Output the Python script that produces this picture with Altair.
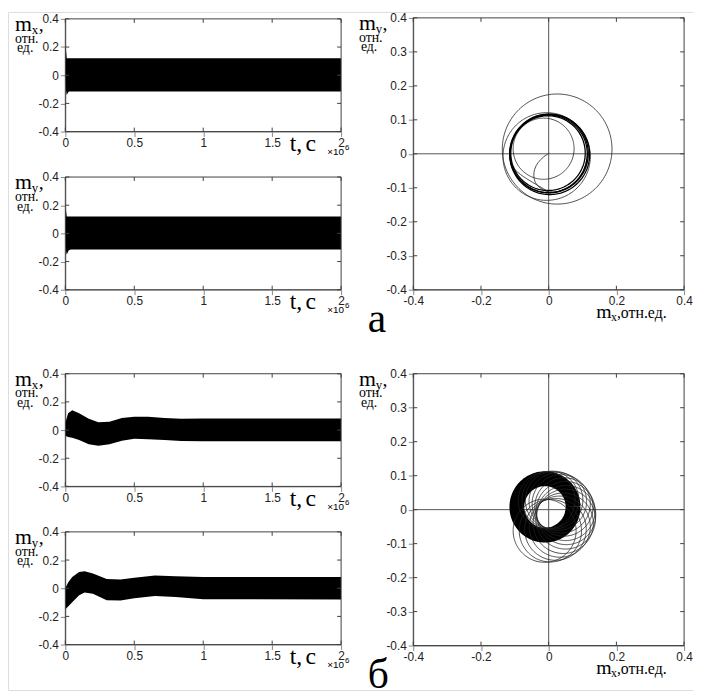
import altair as alt
import pandas as pd
import numpy as np

# ---------------- data ----------------
# envelopes of the fast oscillation, t in units of 1e-6 s
a_mx_t  = [0.0, 0.004, 0.010, 0.016, 0.025, 0.04, 2.0]
a_mx_hi = [0.20, 0.19, 0.12, 0.12, 0.12, 0.12, 0.12]
a_mx_lo = [-0.02, -0.10, -0.14, -0.13, -0.115, -0.115, -0.115]

a_my_t  = [0.0, 0.004, 0.010, 0.016, 0.025, 0.04, 2.0]
a_my_hi = [0.18, 0.17, 0.12, 0.12, 0.12, 0.12, 0.12]
a_my_lo = [0.00, -0.12, -0.15, -0.14, -0.12, -0.115, -0.115]

b_mx_t  = [0.0, 0.02, 0.05, 0.10, 0.17, 0.24, 0.32, 0.41, 0.50, 0.60, 0.72, 0.84, 1.0, 2.0]
b_mx_hi = [0.05, 0.12, 0.14, 0.12, 0.08, 0.055, 0.06, 0.085, 0.095, 0.095, 0.085, 0.08, 0.082, 0.082]
b_mx_lo = [-0.04, -0.05, -0.055, -0.07, -0.10, -0.112, -0.10, -0.075, -0.062, -0.065, -0.07, -0.078, -0.08, -0.08]

b_my_t  = [0.0, 0.02, 0.05, 0.10, 0.14, 0.20, 0.30, 0.40, 0.50, 0.65, 0.80, 1.0, 2.0]
b_my_hi = [0.0, 0.04, 0.08, 0.115, 0.12, 0.105, 0.065, 0.062, 0.075, 0.09, 0.085, 0.08, 0.08]
b_my_lo = [-0.15, -0.13, -0.10, -0.05, -0.03, -0.04, -0.085, -0.088, -0.072, -0.056, -0.062, -0.078, -0.08]

# phase portrait (a): loops as centre / radius
a_ring_cx = [0.000, 0.003, -0.002, 0.001]
a_ring_cy = [0.000, -0.002, 0.002, 0.001]
a_ring_r  = [0.114, 0.118, 0.110, 0.116]
a_loop_cx = [0.025, -0.006, -0.015]
a_loop_cy = [0.014, -0.008, 0.015]
a_loop_r  = [0.162, 0.129, 0.090]
a_path_x = [0.002, -0.015, -0.032, -0.043, -0.045, -0.038, -0.02, 0.01, 0.05, 0.085, 0.108, 0.115]
a_path_y = [0.002, -0.008, -0.025, -0.045, -0.07, -0.09, -0.106, -0.116, -0.106, -0.08, -0.045, 0.0]
a_chord_x = [-0.113, -0.095, -0.055, -0.02, 0.0]
a_chord_y = [-0.03, -0.054, -0.08, -0.10, -0.112]

# phase portrait (б): dense ring + transient loops
b_ring_cx, b_ring_cy, b_ring_r = [-0.011], [0.008], [0.083]
b_loop_cx = [-0.012, 0.005, 0.020, 0.033, 0.043, 0.050, 0.052, 0.050, 0.045, 0.037, 0.027, 0.016, 0.005, -0.006]
b_loop_cy = [-0.062, -0.062, -0.058, -0.050, -0.040, -0.028, -0.016, -0.004, 0.008, 0.017, 0.024, 0.028, 0.029, 0.027]
b_loop_r  = [0.093, 0.092, 0.091, 0.090, 0.089, 0.088, 0.087, 0.087, 0.086, 0.086, 0.085, 0.085, 0.084, 0.084]

ts_xticks = [0, 0.5, 1, 1.5, 2]
ts_yticks = [-0.4, -0.2, 0, 0.2, 0.4]
ph_xticks = [-0.4, -0.2, 0, 0.2, 0.4]
ph_yticks = [-0.4, -0.3, -0.2, -0.1, 0, 0.1, 0.2, 0.3, 0.4]

# ---------------- layout / styling ----------------
W, H = 693, 686
SERIF = "Liberation Serif"
SANS = "Liberation Sans"
FRAME = "#404040"
LINE = "#222"
TICK = 4
LABEL_EXPR = "datum.value == 0 ? '0' : (datum.value < 0 ? '-' : '') + format(abs(datum.value), '')"
one = pd.DataFrame({"k": [0]})

# panel boxes: (left, top, right, bottom) in chart pixels
BOX = {
    "p1": (58, 7, 337, 121),
    "p2": (58, 167, 337, 281),
    "p3": (58, 366, 337, 480),
    "p4": (58, 526, 337, 640),
    "pa": (410, 6, 684, 281),
    "pb": (410, 366, 684, 641),
}


def txt(s, x, y, size, font=SERIF, align="left"):
    return alt.Chart(one).mark_text(
        text=s, font=font, fontSize=size, align=align, baseline="alphabetic", color="#000"
    ).encode(x=alt.value(x), y=alt.value(y))


def xenc(field, box, dom, ticks=None):
    l, t, r, b = box
    axis = None
    if ticks is not None:
        axis = alt.Axis(values=ticks, labelExpr=LABEL_EXPR, title=None, orient="bottom",
                        offset=b - H, labelPadding=1, labelFlush=False, labelOverlap=False,
                        labelFont=SANS, labelFontSize=12, labelColor="#222")
    return alt.X(f"{field}:Q", scale=alt.Scale(domain=dom, range=[l, r], nice=False, zero=False),
                 axis=axis)


def yenc(field, box, dom, ticks=None):
    l, t, r, b = box
    axis = None
    if ticks is not None:
        axis = alt.Axis(values=ticks, labelExpr=LABEL_EXPR, title=None, orient="left",
                        offset=-l, labelPadding=2, labelFlush=False, labelOverlap=False,
                        labelFont=SANS, labelFontSize=12, labelColor="#222")
    return alt.Y(f"{field}:Q", scale=alt.Scale(domain=dom, range=[b, t], nice=False, zero=False),
                 axis=axis)


def frame_and_ticks(box, xdom, xt, ydom, yt):
    l, t, r, b = box
    frame = alt.Chart(one).mark_rect(fillOpacity=0, stroke=FRAME, strokeWidth=1).encode(
        x=alt.value(l), x2=alt.value(r), y=alt.value(t), y2=alt.value(b))
    dx = pd.DataFrame({"v": xt})
    dy = pd.DataFrame({"v": yt})
    rx = alt.Chart(dx).mark_rule(color=FRAME, strokeWidth=1)
    ry = alt.Chart(dy).mark_rule(color=FRAME, strokeWidth=1)
    return [
        frame,
        # these two layers carry the visible tick labels
        rx.encode(x=xenc("v", box, xdom, xt), y=alt.value(b), y2=alt.value(b - TICK)),
        ry.encode(y=yenc("v", box, ydom, yt), x=alt.value(l), x2=alt.value(l + TICK)),
        rx.encode(x=xenc("v", box, xdom), y=alt.value(t), y2=alt.value(t + TICK)),
        ry.encode(y=yenc("v", box, ydom), x=alt.value(r), x2=alt.value(r - TICK)),
    ]


def ylabel(sub, x0, y0):
    return [
        txt("m", x0, y0, 22),
        txt(sub, x0 + 17, y0 + 3, 13),
        txt(",", x0 + 24, y0, 20),
        txt("отн.", x0, y0 + 12, 14),
        txt("ед.", x0 + 2, y0 + 22, 14),
    ]


def ts_panel(key, t, hi, lo, sub):
    box = BOX[key]
    l, tp, r, b = box
    df = pd.DataFrame({"t": t, "hi": hi, "lo": lo})
    xdom, ydom = [0, 2], [-0.4, 0.4]
    band = alt.Chart(df).mark_area(color="#000", opacity=1, interpolate="linear").encode(
        x=xenc("t", box, xdom),
        y=yenc("hi", box, ydom),
        y2="lo:Q",
    )
    layers = [band] + frame_and_ticks(box, xdom, ts_xticks, ydom, ts_yticks)
    layers += ylabel(sub, l - 51, tp + 12)
    layers += [
        txt("t,", l + 227, b + 20, 24),
        txt("c", l + 243, b + 20, 24),
        txt("×10", l + 282, b + 24, 10, font=SANS, align="right"),
        txt("6", l + 283, b + 19, 8, font=SANS),
    ]
    return layers


def circles(cx, cy, r, tag, n=181):
    rows = []
    ang = np.linspace(0, 2 * np.pi, n)
    for k, (a, b, c) in enumerate(zip(cx, cy, r)):
        for i, th in enumerate(ang):
            rows.append({"id": f"{tag}{k}", "i": i, "x": a + c * np.cos(th), "y": b + c * np.sin(th)})
    return pd.DataFrame(rows)


def path(xs, ys, tag):
    return pd.DataFrame({"id": tag, "i": list(range(len(xs))), "x": xs, "y": ys})


def phase_panel(key, line_sets, letter):
    box = BOX[key]
    l, tp, r, b = box
    dom = [-0.4, 0.4]
    z = pd.DataFrame({"v": [0]})
    layers = [
        alt.Chart(z).mark_rule(color="#555", strokeWidth=1).encode(
            x=xenc("v", box, dom), y=alt.value(tp), y2=alt.value(b)),
        alt.Chart(z).mark_rule(color="#555", strokeWidth=1).encode(
            y=yenc("v", box, dom), x=alt.value(l), x2=alt.value(r)),
    ]
    for df, width, color, interp in line_sets:
        layers.append(
            alt.Chart(df).mark_line(color=color, strokeWidth=width, interpolate=interp).encode(
                x=xenc("x", box, dom),
                y=yenc("y", box, dom),
                detail="id:N",
                order="i:Q",
            )
        )
    layers += frame_and_ticks(box, dom, ph_xticks, dom, ph_yticks)
    layers += ylabel("y", l - 55, tp + 12)
    layers += [
        txt("m", l + 185, b + 29, 20),
        txt("x", l + 200, b + 32, 12),
        txt(",отн.ед.", l + 206, b + 29, 16),
        txt(letter, l - 46, b + 43, 42),
    ]
    return layers


layers = []
layers += ts_panel("p1", a_mx_t, a_mx_hi, a_mx_lo, "x")
layers += ts_panel("p2", a_my_t, a_my_hi, a_my_lo, "y")
layers += ts_panel("p3", b_mx_t, b_mx_hi, b_mx_lo, "x")
layers += ts_panel("p4", b_my_t, b_my_hi, b_my_lo, "y")
layers += phase_panel("pa", [
    (circles(a_loop_cx, a_loop_cy, a_loop_r, "al"), 0.8, LINE, "linear"),
    (path(a_path_x, a_path_y, "ap"), 0.8, LINE, "basis"),
    (path(a_chord_x, a_chord_y, "ac"), 0.8, LINE, "basis"),
    (circles(a_ring_cx, a_ring_cy, a_ring_r, "ar"), 1.3, "#000", "linear"),
], "а")
layers += phase_panel("pb", [
    (circles(b_ring_cx, b_ring_cy, b_ring_r, "br"), 15, "#000", "linear"),
    (circles(b_loop_cx, b_loop_cy, b_loop_r, "bl"), 0.8, LINE, "linear"),
], "б")

chart = alt.layer(*layers).resolve_scale(
    x="independent", y="independent"
).resolve_axis(
    x="independent", y="independent"
).properties(
    width=W, height=H,
    autosize=alt.AutoSizeParams(type="none"),
    padding={"left": 0, "top": 0, "right": 0, "bottom": 0},
).configure_view(
    stroke=None
).configure_axis(
    ticks=False, domain=False, grid=False,
).configure(background="white")

chart.save("out.html", embed_options={"renderer": "svg", "actions": False})
